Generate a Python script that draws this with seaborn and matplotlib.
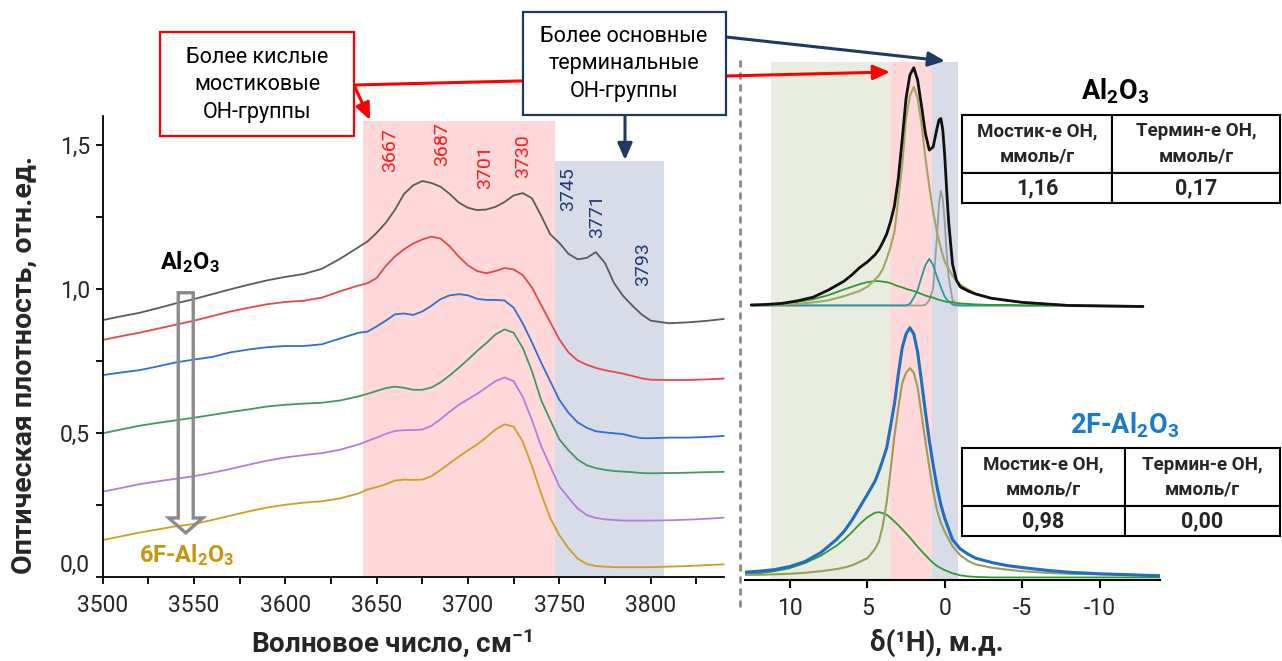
import numpy as np
import pandas as pd
import matplotlib
matplotlib.use("Agg")
import matplotlib.pyplot as plt
import seaborn as sns
from matplotlib.patches import Rectangle, FancyArrow, FancyArrowPatch
from matplotlib.lines import Line2D
from matplotlib.ticker import MultipleLocator, FuncFormatter
import matplotlib.transforms as mtransforms

sns.set_style("ticks")
plt.rcParams["font.family"] = ["Roboto", "DejaVu Sans"]
plt.rcParams["mathtext.fontset"] = "custom"
plt.rcParams["mathtext.rm"] = "Roboto"
plt.rcParams["mathtext.bf"] = "Roboto:bold"
plt.rcParams["mathtext.it"] = "Roboto:italic"
plt.rcParams["axes.unicode_minus"] = False

# ---------------- IR data ----------------
wavenumber = [3500, 3510, 3520, 3530, 3540, 3550, 3560, 3570, 3580, 3590, 3600, 3610, 3620, 3630, 3640,
              3645, 3650, 3655, 3660, 3665, 3670, 3675, 3680, 3685, 3690, 3695, 3700, 3705, 3710, 3715,
              3720, 3725, 3730, 3735, 3740, 3745, 3750, 3755, 3760, 3765, 3770, 3775, 3780, 3785, 3790,
              3795, 3800, 3810, 3820, 3830, 3840]
ir_al2o3 = [0.892, 0.905, 0.917, 0.933, 0.950, 0.965, 0.982, 0.999, 1.015, 1.030, 1.042, 1.052, 1.070, 1.105, 1.145,
            1.165, 1.195, 1.230, 1.275, 1.330, 1.360, 1.375, 1.368, 1.355, 1.330, 1.300, 1.282, 1.274, 1.276, 1.285,
            1.302, 1.325, 1.333, 1.315, 1.255, 1.190, 1.160, 1.122, 1.103, 1.108, 1.128, 1.090, 1.020, 0.975, 0.942,
            0.912, 0.890, 0.881, 0.884, 0.889, 0.896]
ir_s1 = [0.823, 0.836, 0.848, 0.862, 0.876, 0.890, 0.906, 0.922, 0.935, 0.947, 0.955, 0.959, 0.970, 0.992, 1.012,
         1.020, 1.038, 1.080, 1.113, 1.138, 1.158, 1.172, 1.182, 1.175, 1.148, 1.112, 1.082, 1.062, 1.055, 1.062,
         1.073, 1.068, 1.048, 1.005, 0.945, 0.885, 0.825, 0.780, 0.752, 0.737, 0.726, 0.718, 0.712, 0.706, 0.698,
         0.690, 0.685, 0.684, 0.684, 0.686, 0.689]
ir_s2 = [0.701, 0.710, 0.718, 0.731, 0.745, 0.755, 0.764, 0.780, 0.790, 0.798, 0.802, 0.802, 0.808, 0.828, 0.848,
         0.852, 0.870, 0.890, 0.912, 0.915, 0.910, 0.922, 0.942, 0.965, 0.978, 0.982, 0.978, 0.966, 0.962, 0.962,
         0.960, 0.935, 0.880, 0.815, 0.745, 0.680, 0.615, 0.570, 0.537, 0.518, 0.506, 0.502, 0.499, 0.496, 0.488,
         0.482, 0.482, 0.484, 0.484, 0.486, 0.490]
ir_s3 = [0.499, 0.512, 0.525, 0.535, 0.544, 0.553, 0.563, 0.573, 0.582, 0.592, 0.598, 0.602, 0.605, 0.613, 0.627,
         0.636, 0.646, 0.656, 0.661, 0.657, 0.650, 0.650, 0.658, 0.676, 0.700, 0.727, 0.755, 0.785, 0.812, 0.842,
         0.860, 0.848, 0.795, 0.715, 0.615, 0.545, 0.478, 0.440, 0.408, 0.388, 0.378, 0.372, 0.368, 0.366, 0.364,
         0.361, 0.360, 0.361, 0.362, 0.364, 0.365]
ir_s4 = [0.296, 0.309, 0.322, 0.332, 0.341, 0.350, 0.362, 0.375, 0.390, 0.404, 0.415, 0.423, 0.430, 0.442, 0.460,
         0.472, 0.484, 0.497, 0.507, 0.510, 0.510, 0.512, 0.525, 0.548, 0.574, 0.598, 0.617, 0.636, 0.658, 0.680,
         0.693, 0.680, 0.625, 0.545, 0.455, 0.385, 0.315, 0.275, 0.238, 0.215, 0.205, 0.200, 0.198, 0.196, 0.196,
         0.196, 0.196, 0.197, 0.199, 0.202, 0.206]
ir_6f = [0.128, 0.141, 0.154, 0.165, 0.176, 0.184, 0.198, 0.213, 0.228, 0.241, 0.251, 0.258, 0.263, 0.273, 0.290,
         0.304, 0.312, 0.322, 0.335, 0.338, 0.337, 0.338, 0.350, 0.372, 0.395, 0.418, 0.440, 0.460, 0.485, 0.512,
         0.530, 0.522, 0.470, 0.385, 0.290, 0.205, 0.145, 0.100, 0.064, 0.045, 0.038, 0.036, 0.034, 0.034, 0.034,
         0.034, 0.034, 0.036, 0.038, 0.041, 0.044]
ir_samples = ["Al2O3", "1F-Al2O3", "2F-Al2O3", "3F-Al2O3", "4F-Al2O3", "6F-Al2O3"]
ir_series = [ir_al2o3, ir_s1, ir_s2, ir_s3, ir_s4, ir_6f]
ir_colors = ["#5b5b5b", "#e8474a", "#2f6fd6", "#3f9a62", "#b57ce0", "#d29e1e"]

peak_labels_acid = ["3667", "3687", "3701", "3730"]
peak_acid_x = [3657.3, 3685.6, 3709.3, 3730.3]
peak_acid_y = [1.483, 1.503, 1.424, 1.462]
peak_labels_term = ["3745", "3771", "3793"]
peak_term_x = [3754.9, 3770.8, 3795.9]
peak_term_y = [1.347, 1.253, 1.087]

# ---------------- NMR data ----------------
delta_top = [12.5, 11.5, 10.5, 9.5, 8.5, 7.5, 6.5, 6.0, 5.5, 5.0, 4.5, 4.25, 4.0, 3.75, 3.5, 3.25, 3.0, 2.75,
             2.5, 2.25, 2.0, 1.75, 1.5, 1.25, 1.0, 0.75, 0.5, 0.375, 0.25, 0.125, 0.0, -0.125, -0.25, -0.5,
             -0.75, -1.0, -1.5, -2.0, -3.0, -4.0, -5.0, -6.5, -8.0, -10.0, -12.8]
top_total = [0.531, 0.532, 0.534, 0.539, 0.546, 0.560, 0.577, 0.589, 0.603, 0.614, 0.628, 0.638, 0.652, 0.668,
             0.692, 0.722, 0.775, 0.850, 0.930, 0.975, 0.989, 0.965, 0.915, 0.862, 0.830, 0.836, 0.872, 0.888,
             0.891, 0.868, 0.818, 0.752, 0.692, 0.610, 0.579, 0.566, 0.558, 0.552, 0.544, 0.540, 0.536, 0.533,
             0.530, 0.529, 0.528]
top_bridge = [0.530, 0.531, 0.532, 0.533, 0.536, 0.540, 0.548, 0.553, 0.558, 0.566, 0.580, 0.588, 0.600, 0.620,
              0.643, 0.672, 0.735, 0.800, 0.890, 0.935, 0.952, 0.930, 0.880, 0.815, 0.760, 0.710, 0.672, 0.655,
              0.640, 0.627, 0.615, 0.607, 0.600, 0.588, 0.578, 0.570, 0.561, 0.553, 0.544, 0.539, 0.536, 0.533,
              0.530, 0.529, 0.528]
top_broad = [0.530, 0.531, 0.533, 0.537, 0.542, 0.550, 0.561, 0.566, 0.571, 0.575, 0.577, 0.577, 0.576, 0.575,
             0.573, 0.570, 0.567, 0.565, 0.562, 0.560, 0.558, 0.555, 0.552, 0.549, 0.547, 0.545, 0.542, 0.541,
             0.540, 0.539, 0.538, 0.537, 0.537, 0.536, 0.535, 0.534, 0.533, 0.532, 0.531, 0.531, 0.530, 0.530,
             0.530, 0.530, 0.529]
top_teal = [0.530, 0.530, 0.530, 0.530, 0.530, 0.530, 0.530, 0.530, 0.530, 0.530, 0.530, 0.530, 0.530, 0.530,
            0.530, 0.530, 0.530, 0.530, 0.530, 0.533, 0.545, 0.560, 0.585, 0.608, 0.620, 0.608, 0.585, 0.575,
            0.565, 0.556, 0.547, 0.542, 0.538, 0.532, 0.530, 0.530, 0.530, 0.530, 0.530, 0.530, 0.530, 0.530,
            0.530, 0.529, 0.528]
top_term = [0.530, 0.530, 0.530, 0.530, 0.530, 0.530, 0.530, 0.530, 0.530, 0.530, 0.530, 0.530, 0.530, 0.530,
            0.530, 0.530, 0.530, 0.530, 0.530, 0.530, 0.530, 0.530, 0.530, 0.531, 0.540, 0.563, 0.665, 0.725,
            0.752, 0.735, 0.690, 0.630, 0.585, 0.540, 0.532, 0.530, 0.530, 0.530, 0.530, 0.530, 0.530, 0.530,
            0.530, 0.529, 0.528]

delta_bot = [12.9, 12.0, 11.0, 10.0, 9.0, 8.0, 7.0, 6.5, 6.0, 5.5, 5.0, 4.5, 4.25, 4.0, 3.75, 3.5, 3.25, 3.0,
             2.75, 2.5, 2.25, 2.0, 1.75, 1.5, 1.25, 1.0, 0.75, 0.5, 0.25, 0.0, -0.5, -1.0, -1.5, -2.0, -3.0,
             -4.0, -5.0, -6.5, -8.0, -10.0, -12.0, -13.9]
bot_total = [0.015, 0.017, 0.020, 0.026, 0.036, 0.053, 0.078, 0.094, 0.115, 0.140, 0.165, 0.191, 0.210, 0.232,
             0.255, 0.297, 0.340, 0.397, 0.448, 0.475, 0.487, 0.475, 0.440, 0.383, 0.325, 0.270, 0.222, 0.180,
             0.145, 0.119, 0.078, 0.060, 0.050, 0.042, 0.034, 0.028, 0.024, 0.019, 0.015, 0.012, 0.010, 0.008]
bot_bridge = [0.010, 0.010, 0.011, 0.012, 0.014, 0.017, 0.021, 0.024, 0.028, 0.035, 0.042, 0.060, 0.075, 0.105,
              0.150, 0.212, 0.278, 0.332, 0.380, 0.400, 0.409, 0.400, 0.372, 0.320, 0.268, 0.218, 0.172, 0.135,
              0.110, 0.093, 0.065, 0.048, 0.037, 0.030, 0.024, 0.020, 0.017, 0.014, 0.012, 0.011, 0.010, 0.009]
bot_broad = [0.011, 0.013, 0.017, 0.023, 0.033, 0.047, 0.066, 0.078, 0.092, 0.108, 0.121, 0.130, 0.131, 0.129,
             0.126, 0.120, 0.113, 0.106, 0.098, 0.090, 0.082, 0.073, 0.064, 0.056, 0.048, 0.040, 0.033, 0.027,
             0.023, 0.019, 0.013, 0.009, 0.007, 0.006, 0.005, 0.005, 0.005, 0.005, 0.005, 0.005, 0.005, 0.005]

table_header = ["Мостик-е ОН,\nммоль/г", "Термин-е ОН,\nммоль/г"]
table_al2o3 = ["1,16", "0,17"]
table_2f = ["0,98", "0,00"]

# ---------------- figure ----------------
W, H = 1282, 661
fig = plt.figure(figsize=(W / 100, H / 100), dpi=100)
fig.patch.set_facecolor("white")


def fx(px):
    return px / W


def fy(py):
    return 1 - py / H


# ---- left: IR ----
ax1 = fig.add_axes([fx(102.6), fy(577), (724.5 - 102.6) / W, (577 - 116.2) / H])
ax1.set_xlim(3500, 3840.4)
ax1.set_ylim(0, 1.6)
ax1.axvspan(3642.6, 3747.6, ymin=0, ymax=1.584 / 1.6, color="#ffd9d9", lw=0, zorder=0)
ax1.axvspan(3747.6, 3807.3, ymin=0, ymax=1.444 / 1.6, color="#d7dce8", lw=0, zorder=0)

ir_df = pd.DataFrame({
    "wavenumber": np.tile(wavenumber, len(ir_samples)),
    "absorbance": np.concatenate(ir_series),
    "sample": np.repeat(ir_samples, len(wavenumber)),
})
sns.lineplot(data=ir_df, x="wavenumber", y="absorbance", hue="sample", hue_order=ir_samples,
             palette=ir_colors, ax=ax1, legend=False, lw=1.3, sort=False, estimator=None)

for s in ["top", "right"]:
    ax1.spines[s].set_visible(False)
for s in ["left", "bottom"]:
    ax1.spines[s].set_linewidth(1.3)
    ax1.spines[s].set_color("black")
ax1.set_xticks(np.arange(3500, 3801, 50))
ax1.xaxis.set_minor_locator(MultipleLocator(25))
ax1.set_yticks([0, 0.5, 1.0, 1.5])
ax1.yaxis.set_minor_locator(MultipleLocator(0.25))
ax1.yaxis.set_major_formatter(FuncFormatter(lambda v, p: f"{v:.1f}".replace(".", ",")))
ax1.xaxis.set_major_formatter(FuncFormatter(lambda v, p: f"{v:.0f}"))
ax1.tick_params(which="both", direction="out", length=5, width=1.3, color="black")
ax1.tick_params(axis="x", which="major", labelsize=16.5, pad=7)
ax1.tick_params(axis="y", which="major", labelsize=16.5, pad=4)
zero_lbl = ax1.yaxis.get_major_ticks()[0].label1
zero_lbl.set_transform(zero_lbl.get_transform() + mtransforms.ScaledTranslation(0, 14 / 100, fig.dpi_scale_trans))

ax1.set_xlabel("Волновое число, см$^{\\mathbf{-1}}$", fontsize=20, fontweight="bold", va="baseline")
ax1.xaxis.set_label_coords(0.465, (577 - 653) / 460.8)
ax1.set_ylabel("Оптическая плотность, отн.ед.", fontsize=20.5, fontweight="bold")
ax1.yaxis.set_label_coords(-0.104, 0.46)

for lab, x, y in zip(peak_labels_acid, peak_acid_x, peak_acid_y):
    ax1.text(x, y, lab, rotation=90, ha="center", va="center", color="#ff1a1a", fontsize=14)
for lab, x, y in zip(peak_labels_term, peak_term_x, peak_term_y):
    ax1.text(x, y, lab, rotation=90, ha="center", va="center", color="#1f3b70", fontsize=14)

ax1.add_patch(FancyArrow(3545.5, 0.987, 0, -0.834, width=8.2, head_width=18.6, head_length=0.052,
                         length_includes_head=True, fill=False, ec="#8a8a8a", lw=2.4, zorder=5))
ax1.text(3548, 1.094, "Al$_\\mathbf{2}$O$_\\mathbf{3}$", ha="center", va="center", fontsize=17,
         fontweight="bold", color="black")
ax1.text(3546, 0.076, "6F-Al$_\\mathbf{2}$O$_\\mathbf{3}$", ha="center", va="center", fontsize=17,
         fontweight="bold", color="#c8960c")

# ---- right: NMR ----
ax2 = fig.add_axes([fx(745), fy(580), 415 / W, 518 / H])
ax2.set_xlim(12.9, -13.9)
ax2.set_ylim(0, 1)
ax2.axvspan(3.55, 11.23, color="#e9eddf", lw=0, zorder=0)
ax2.axvspan(0.84, 3.55, color="#ffd9d9", lw=0, zorder=0)
ax2.axvspan(-0.84, 0.84, color="#d7dce8", lw=0, zorder=0)

line_kw = dict(ax=ax2, sort=False, estimator=None, legend=False)
sns.lineplot(x=delta_top, y=top_term, color="#9c9c9c", lw=1.3, **line_kw)
sns.lineplot(x=delta_top, y=top_teal, color="#2b98a3", lw=1.3, **line_kw)
sns.lineplot(x=delta_top, y=top_broad, color="#2f9a2f", lw=1.3, **line_kw)
sns.lineplot(x=delta_top, y=top_bridge, color="#a6a65e", lw=1.5, **line_kw)
sns.lineplot(x=delta_top, y=top_total, color="#111111", lw=2.0, **line_kw)

sns.lineplot(x=delta_bot, y=bot_broad, color="#2f9a2f", lw=1.3, **line_kw)
sns.lineplot(x=delta_bot, y=bot_bridge, color="#9d9d5a", lw=1.5, **line_kw)
sns.lineplot(x=delta_bot, y=bot_total, color="#1f6fc0", lw=2.2, **line_kw)

for s in ["top", "right", "left"]:
    ax2.spines[s].set_visible(False)
ax2.spines["bottom"].set_linewidth(1.5)
ax2.spines["bottom"].set_color("black")
ax2.set_yticks([])
ax2.set_xticks([10, 5, 0, -5, -10])
ax2.xaxis.set_major_formatter(FuncFormatter(lambda v, p: f"{v:g}"))
ax2.tick_params(axis="x", direction="out", length=6, width=1.5, labelsize=16.5, pad=6, color="black")
ax2.set_xlabel("δ(¹H), м.д.", fontsize=20, fontweight="bold", va="baseline")
ax2.xaxis.set_label_coords(0.463, (580 - 651) / 518)
ax2.set_ylabel("")

# ---- tables ----
def make_table(left, top, bottom, right, split, values):
    tax = fig.add_axes([fx(left), fy(bottom), (right - left) / W, (bottom - top) / H])
    tax.axis("off")
    tb = tax.table(cellText=[table_header, values], cellLoc="center", bbox=[0, 0, 1, 1],
                   colWidths=[split - left, right - split])
    tb.auto_set_font_size(False)
    for (r, c), cell in tb.get_celld().items():
        cell.set_linewidth(1.5)
        cell.set_edgecolor("black")
        cell.set_facecolor("white")
        t = cell.get_text()
        t.set_fontweight("bold")
        if r == 0:
            cell.set_height(58)
            t.set_fontsize(13.5)
            t.set_linespacing(1.5)
        else:
            cell.set_height(30)
            t.set_fontsize(15.5)
    return tax


make_table(962, 115, 203, 1280, 1112, table_al2o3)
make_table(962, 448, 536, 1280, 1125, table_2f)
fig.text(fx(1115), fy(91), "Al$_\\mathbf{2}$O$_\\mathbf{3}$", ha="center", va="center", fontsize=19.5,
         fontweight="bold", color="black")
fig.text(fx(1125), fy(425), "2F-Al$_\\mathbf{2}$O$_\\mathbf{3}$", ha="center", va="center", fontsize=19.5,
         fontweight="bold", color="#1a7ad0")

# ---- separator ----
fig.add_artist(Line2D([fx(740), fx(740)], [fy(60), fy(612)], transform=fig.transFigure,
                      color="#7f7f7f", lw=1.8, linestyle=(0, (2.8, 2.0))))

# ---- callout boxes and arrows ----
astyle = "-|>,head_length=0.5,head_width=0.22"


def arrow(p0, p1, color, z):
    fig.add_artist(FancyArrowPatch((fx(p0[0]), fy(p0[1])), (fx(p1[0]), fy(p1[1])),
                                   transform=fig.transFigure, arrowstyle=astyle, mutation_scale=20,
                                   lw=2.2, color=color, shrinkA=0, shrinkB=0, zorder=z))


arrow((354, 85), (890, 72), "#ff0000", 4)
arrow((354, 85), (370, 120), "#ff0000", 4)
arrow((726, 37), (945, 61), "#1f3864", 4)
arrow((625, 115), (625, 160), "#1f3864", 4)

fig.add_artist(Rectangle((fx(160), fy(136)), (354 - 160) / W, (136 - 32) / H, transform=fig.transFigure,
                         fc="white", ec="#ff0000", lw=1.6, zorder=6))
fig.text(fx(257), fy(85), "Более кислые\nмостиковые\nОН-группы", ha="center", va="center",
         fontsize=15.5, linespacing=1.4, color="black", zorder=7)
fig.add_artist(Rectangle((fx(523), fy(115)), (726 - 523) / W, (115 - 12) / H, transform=fig.transFigure,
                         fc="white", ec="#1f3864", lw=1.6, zorder=6))
fig.text(fx(624), fy(64), "Более основные\nтерминальные\nОН-группы", ha="center", va="center",
         fontsize=15.5, linespacing=1.4, color="black", zorder=7)

fig.savefig("out.png", dpi=100)
